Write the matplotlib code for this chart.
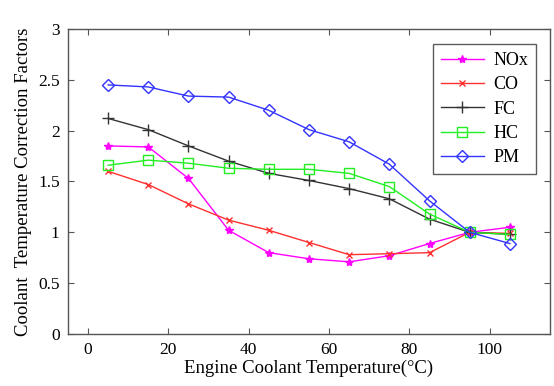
import matplotlib
matplotlib.use('Agg')
import matplotlib.pyplot as plt

plt.rcParams['font.family'] = ['Liberation Serif', 'DejaVu Serif']
plt.rcParams['mathtext.fontset'] = 'stix'

temps = [5, 15, 25, 35, 45, 55, 65, 75, 85, 95, 105]
nox = [1.85, 1.84, 1.53, 1.02, 0.80, 0.74, 0.71, 0.77, 0.89, 1.00, 1.05]
co = [1.60, 1.47, 1.28, 1.12, 1.02, 0.90, 0.78, 0.79, 0.80, 1.00, 0.99]
fc = [2.12, 2.01, 1.85, 1.70, 1.58, 1.51, 1.43, 1.33, 1.13, 1.00, 0.98]
hc = [1.66, 1.71, 1.68, 1.63, 1.62, 1.62, 1.58, 1.45, 1.18, 1.00, 0.98]
pm = [2.45, 2.43, 2.34, 2.33, 2.20, 2.01, 1.89, 1.67, 1.31, 1.00, 0.89]

xticks = [0, 20, 40, 60, 80, 100]
yticks = [0, 0.5, 1, 1.5, 2, 2.5, 3]

fig = plt.figure(figsize=(5.54, 3.86), dpi=100)
ax = fig.add_axes([0.1227, 0.1347, 0.8701, 0.7902])

series = [
    ('NOx', nox, '#FF00FF', dict(marker='*', markersize=6, markerfacecolor='#FF00FF')),
    ('CO', co, '#FF3030', dict(marker='x', markersize=4, markeredgewidth=1.0)),
    ('FC', fc, '#333333', dict(marker='+', markersize=8, markeredgewidth=1.0)),
    ('HC', hc, '#22EE22', dict(marker='s', markersize=7.5, markerfacecolor='none', markeredgewidth=1.0)),
    ('PM', pm, '#3333FF', dict(marker='D', markersize=6.5, markerfacecolor='none', markeredgewidth=1.0)),
]
for name, vals, color, style in series:
    ax.plot(temps, vals, color=color, linewidth=1.0, label=name, **style)

ax.set_xlim(-5, 115)
ax.set_ylim(0, 3)
ax.set_xticks(xticks)
ax.set_yticks(yticks)
ax.set_yticklabels(['0', '0.5', '1', '1.5', '2', '2.5', '3'])
ax.tick_params(direction='in', top=True, right=True, length=4, width=0.8,
               color='#555555', labelsize=12.5, pad=6)
for sp in ax.spines.values():
    sp.set_color('#555555')
    sp.set_linewidth(1.0)

ax.set_xlabel('Engine Coolant Temperature(\u00b0C)', fontsize=13.5, labelpad=1)
ax.set_ylabel('Coolant  Temperature Correction Factors', fontsize=13.5, labelpad=4)

leg = ax.legend(loc='upper right', fontsize=13, frameon=True, fancybox=False,
                edgecolor='#333333', handlelength=2.4, handletextpad=0.5,
                borderpad=0.45, labelspacing=0.4,
                bbox_to_anchor=(0.99, 0.98))
leg.get_frame().set_linewidth(1.0)

fig.savefig('out.png', dpi=100)
